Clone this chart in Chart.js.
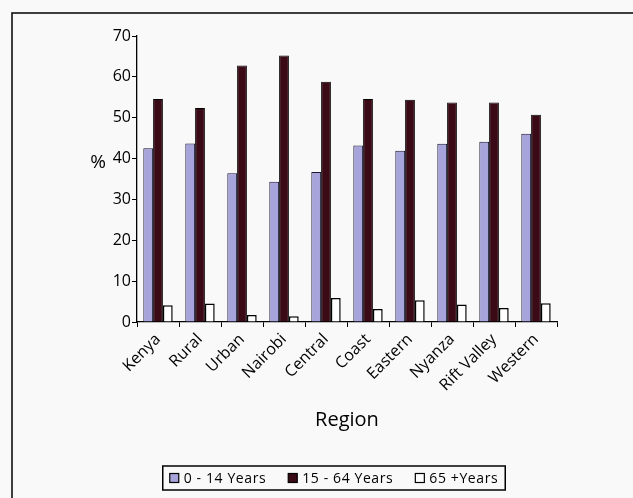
<!DOCTYPE html>
<html>
<head>
<meta charset="utf-8">
<script src="https://cdn.jsdelivr.net/npm/chart.js@4.4.1/dist/chart.umd.min.js"></script>
<style>
  html, body { margin: 0; padding: 0; background: #f9f9f9; }
  #wrap { width: 633px; height: 498px; }
</style>
</head>
<body>
<div id="wrap"><canvas id="ageChart" width="633" height="498"></canvas></div>
<script>
const regions = ["Kenya", "Rural", "Urban", "Nairobi", "Central", "Coast", "Eastern", "Nyanza", "Rift Valley", "Western"];
const age0to14 = [42.5, 43.7, 36.4, 34.3, 36.7, 43.2, 41.9, 43.6, 44.1, 46.1];
const age15to64 = [54.6, 52.4, 62.8, 65.2, 58.8, 54.6, 54.4, 53.7, 53.7, 50.7];
const age65plus = [4.1, 4.5, 1.7, 1.4, 5.9, 3.2, 5.3, 4.3, 3.4, 4.6];
const seriesLabels = ["0 - 14 Years", "15 - 64 Years", "65 +Years"];
const yTicks = [0, 10, 20, 30, 40, 50, 60, 70];

const FONT = "'Open Sans', 'DejaVu Sans', sans-serif";

// page background + the frame that runs off the right/bottom edge
const framePlugin = {
  id: "frame",
  beforeDraw(chart) {
    const ctx = chart.ctx;
    ctx.save();
    ctx.fillStyle = "#f9f9f9";
    ctx.fillRect(0, 0, chart.width, chart.height);
    ctx.strokeStyle = "#111";
    ctx.lineWidth = 1.6;
    ctx.strokeRect(12, 13, chart.width + 20, chart.height + 20);
    ctx.restore();
  }
};

// "%" label drawn upright, and a boxed legend under the axis title
const extrasPlugin = {
  id: "extras",
  afterDraw(chart) {
    const ctx = chart.ctx;
    ctx.save();
    ctx.fillStyle = "#000";
    ctx.font = "19px " + FONT;
    ctx.textAlign = "center";
    ctx.textBaseline = "middle";
    ctx.fillText("%", 98, 163);

    // legend
    ctx.font = "14px " + FONT;
    if ("letterSpacing" in ctx) ctx.letterSpacing = "0.6px";
    const box = 9, gapText = 5, gapItem = 22, pad = 7;
    const items = chart.data.datasets.map(ds => ({
      text: ds.label,
      fill: ds.backgroundColor,
      w: box + gapText + ctx.measureText(ds.label).width
    }));
    const inner = items.reduce((s, it) => s + it.w, 0) + gapItem * (items.length - 1);
    const cx = 334, top = 466, h = 24;
    const left = cx - inner / 2 - pad;
    ctx.strokeStyle = "#000";
    ctx.lineWidth = 1.5;
    ctx.strokeRect(left, top, inner + pad * 2, h);
    let x = left + pad;
    const midY = top + h / 2;
    items.forEach(it => {
      ctx.fillStyle = it.fill;
      ctx.fillRect(x, midY - box / 2, box, box);
      ctx.lineWidth = 1.2;
      ctx.strokeRect(x, midY - box / 2, box, box);
      ctx.fillStyle = "#000";
      ctx.textAlign = "left";
      ctx.fillText(it.text, x + box + gapText, midY + 1);
      x += it.w + gapItem;
    });
    ctx.restore();
  }
};

new Chart(document.getElementById("ageChart"), {
  type: "bar",
  data: {
    labels: regions,
    datasets: [
      { label: seriesLabels[0], data: age0to14, backgroundColor: "#a6a4da", borderColor: "#1a1530", borderWidth: 1 },
      { label: seriesLabels[1], data: age15to64, backgroundColor: "#3a0b17", borderColor: "#000", borderWidth: 1 },
      { label: seriesLabels[2], data: age65plus, backgroundColor: "#ffffff", borderColor: "#000", borderWidth: 1.5 }
    ]
  },
  options: {
    responsive: false,
    animation: false,
    devicePixelRatio: 1,
    layout: { padding: { left: 36, right: 76, top: 36, bottom: 0 } },
    datasets: { bar: { categoryPercentage: 0.7, barPercentage: 1.0 } },
    plugins: {
      legend: { display: false },
      tooltip: { enabled: false }
    },
    scales: {
      x: {
        grid: { drawOnChartArea: false, offset: true, tickLength: 5, color: "#000", lineWidth: 1 },
        border: { color: "#000", width: 1.3 },
        ticks: {
          color: "#000",
          font: { family: FONT, size: 16 },
          minRotation: 45,
          maxRotation: 45,
          padding: 3
        },
        title: {
          display: true,
          text: "Region",
          color: "#000",
          font: { family: FONT, size: 20 },
          padding: { top: 0, bottom: 66 }
        },
        afterFit(scale) { scale.height = 176; }
      },
      y: {
        min: 0,
        max: 70,
        grid: { drawOnChartArea: false, tickLength: 5, color: "#000", lineWidth: 1 },
        border: { color: "#000", width: 1.3 },
        ticks: {
          color: "#000",
          font: { family: FONT, size: 16 },
          padding: 1,
          stepSize: 10,
          callback: v => yTicks.includes(v) ? v : ""
        },
        afterFit(scale) { scale.width = 101; }
      }
    }
  },
  plugins: [framePlugin, extrasPlugin]
});
</script>
</body>
</html>
